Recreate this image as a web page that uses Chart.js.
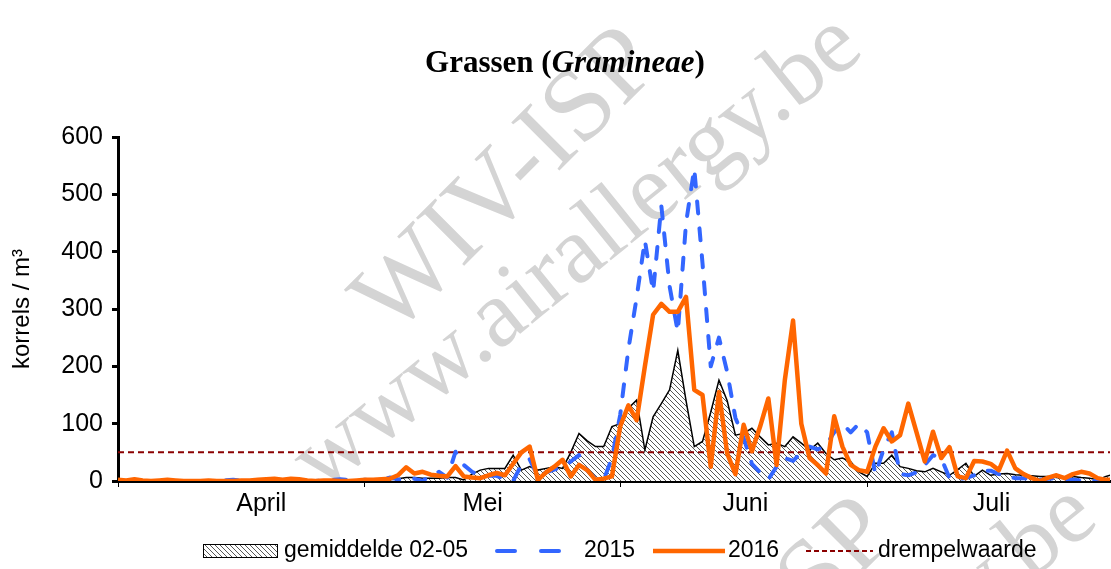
<!DOCTYPE html>
<html><head><meta charset="utf-8">
<script src="https://cdn.jsdelivr.net/npm/chart.js@4.4.0/dist/chart.umd.min.js"></script>
<style>html,body{margin:0;padding:0;background:#fff}#c{display:block}</style>
</head><body>
<canvas id="c" width="1111" height="569"></canvas>
<script>
// ---- data (day index 0 = 1 April) ----
const monthNames = ['April', 'Mei', 'Juni', 'Juli'];
const monthStarts = [0, 30, 61, 91];
const monthLabelAt = [17.4, 44.3, 76.2, 106.1];
const yTicks = [0, 100, 200, 300, 400, 500, 600];
const seriesLabels = ['gemiddelde 02-05', '2015', '2016', 'drempelwaarde'];
const threshold = 50;

const mean0205 = [0,0,0,1,0,0,0,0,0,0, 0,0,0,0,0,0,1,1,2,3, 2,3,2,1,1,1,0,1,1,1,
  1,1,2,2,4,6,6,5,5,5, 6,6,2,12,19,22,22,22,45,19, 25,19,22,25,22,50,83,70,60,60, 95,
  100,127,141,54,112,135,159,228,140,60, 69,120,176,140,80,83,92,77,63,66, 60,77,66,54,66,48,37,40,34,16,
  8,31,31,45,25,22,18,16,22,16, 10,20,31,8,19,10,12,13,11,10, 9,8,8,6,5,8,6,5,2,8, 12];

const y2015 = [0,0,0,0,0,0,0,0,0,0, 0,0,0,1,2,1,0,0,0,0, 0,0,0,0,0,1,2,3,2,1,
  2,1,2,6,3,2,4,0,10,16, 6,51,28,16,10,9,9,3,0,28, 38,8,15,20,25,34,45,18,4,2, 40,
  115,230,320,420,330,480,340,260,450,545, 380,200,250,190,110,75,30,15,3,25, 40,35,50,60,55,62,85,100,85,100,
  85,12,55,85,12,10,15,28,45,40, 5,3,5,10,18,18,12,8,5,5, 3,2,4,5,3,2,1,0,0,0, 0];

const y2016 = [2,1,3,1,0,1,2,1,0,0, 0,1,0,0,0,1,1,2,3,4, 2,4,3,1,0,1,1,0,0,1,
  2,2,3,4,10,24,13,16,11,9, 8,26,8,6,5,10,14,10,30,50, 60,2,15,25,37,8,28,19,2,4, 8,
  95,132,106,200,290,309,295,295,321,159, 150,25,155,48,12,98,52,95,144,28, 176,280,100,40,28,13,113,60,28,19,
  16,60,92,69,80,135,85,34,86,40, 59,8,5,35,34,30,19,53,22,12, 5,0,6,10,5,12,16,13,5,2, 2];

const toPts = arr => arr.map((v, i) => ({x: i, y: v}));

// hatch pattern
function makeHatch() {
  const s = 5, c = document.createElement('canvas');
  c.width = s; c.height = s;
  const g = c.getContext('2d');
  g.fillStyle = '#fff'; g.fillRect(0, 0, s, s);
  g.strokeStyle = '#444'; g.lineWidth = 0.9;
  g.beginPath();
  g.moveTo(-1, -1); g.lineTo(s + 1, s + 1);
  g.moveTo(-1, s - 1); g.lineTo(1, s + 1);
  g.moveTo(s - 1, -1); g.lineTo(s + 1, 1);
  g.stroke();
  return g.createPattern(c, 'repeat');
}
const hatch = makeHatch();

const XMAX = 120.5;
const SANS = '"Liberation Sans", Arial, sans-serif';

const watermark = {
  id: 'watermark',
  beforeDraw(chart) {
    const ctx = chart.ctx;
    ctx.save();
    ctx.fillStyle = '#d4d4d4';
    const items = [
      {t: 'WIV-ISP', x: 392, y: 338, a: -45, f: 104},
      {t: 'www.airallergy.be', x: 322, y: 494, a: -39, f: 96},
      {t: 'WIV-ISP', x: 627, y: 808, a: -45, f: 104},
      {t: 'www.airallergy.be', x: 557, y: 964, a: -39, f: 96}
    ];
    for (const it of items) {
      ctx.save();
      ctx.translate(it.x, it.y);
      ctx.rotate(it.a * Math.PI / 180);
      ctx.font = it.f + 'px "Liberation Serif", "DejaVu Serif", serif';
      ctx.textBaseline = 'alphabetic';
      ctx.textAlign = 'left';
      ctx.fillText(it.t, 0, 0);
      ctx.restore();
    }
    ctx.restore();
  }
};

const titlePlugin = {
  id: 'mixedTitle',
  afterDraw(chart) {
    const ctx = chart.ctx;
    ctx.save();
    const parts = [
      {t: 'Grassen (', f: 'bold 31px "Liberation Serif", serif'},
      {t: 'Gramineae', f: 'italic bold 31px "Liberation Serif", serif'},
      {t: ')', f: 'bold 31px "Liberation Serif", serif'}
    ];
    let w = 0;
    for (const p of parts) { ctx.font = p.f; p.w = ctx.measureText(p.t).width; w += p.w; }
    let x = 565 - w / 2;
    ctx.fillStyle = '#000';
    ctx.textBaseline = 'alphabetic';
    for (const p of parts) { ctx.font = p.f; ctx.fillText(p.t, x, 72); x += p.w; }
    ctx.restore();
  }
};

const legendPlugin = {
  id: 'customLegend',
  afterDraw(chart) {
    const ctx = chart.ctx;
    const yc = 551;
    const slots = [[203, 278, 284], [494, 561, 584], [653, 725, 728], [806, 873, 878]];
    const ds = chart.data.datasets;
    ctx.save();
    ctx.font = '23px ' + SANS;
    ctx.textBaseline = 'middle';
    ctx.fillStyle = '#000';
    slots.forEach((s, i) => {
      const d = ds[i];
      ctx.save();
      if (i === 0) {
        ctx.fillStyle = hatch;
        ctx.fillRect(s[0], yc - 7, s[1] - s[0], 14);
        ctx.strokeStyle = '#000'; ctx.lineWidth = 1;
        ctx.strokeRect(s[0] + 0.5, yc - 6.5, s[1] - s[0] - 1, 13);
      } else {
        ctx.strokeStyle = d.borderColor;
        ctx.lineWidth = d.borderWidth;
        ctx.lineCap = d.borderCapStyle || 'butt';
        if (i === 1) ctx.setLineDash([18, 26]);
        else if (i === 3) ctx.setLineDash([5, 3]);
        else ctx.setLineDash([]);
        ctx.beginPath();
        const off = i === 1 ? 3 : 0;
        ctx.moveTo(s[0] + off, yc); ctx.lineTo(s[1], yc);
        ctx.stroke();
      }
      ctx.restore();
      ctx.fillText(d.label, s[2], yc);
    });
    ctx.restore();
  }
};

new Chart(document.getElementById('c'), {
  type: 'line',
  data: {
    datasets: [
      {label: seriesLabels[0], data: toPts(mean0205), borderColor: '#000', borderWidth: 1.5,
       backgroundColor: hatch, fill: 'origin', pointRadius: 0, tension: 0, order: 4},
      {label: seriesLabels[1], data: toPts(y2015), borderColor: '#3366ff', borderWidth: 4,
       borderDash: [12, 15], borderCapStyle: 'round', borderJoinStyle: 'round',
       fill: false, pointRadius: 0, tension: 0, order: 2},
      {label: seriesLabels[2], data: toPts(y2016), borderColor: '#ff6600', borderWidth: 4.5,
       borderJoinStyle: 'round', fill: false, pointRadius: 0, tension: 0, order: 1},
      {label: seriesLabels[3], data: [{x: 0, y: threshold}, {x: mean0205.length - 1, y: threshold}],
       borderColor: '#8b0000', borderWidth: 2, borderDash: [6, 4], fill: false, pointRadius: 0, order: 3}
    ]
  },
  options: {
    responsive: false,
    animation: false,
    devicePixelRatio: 1,
    layout: {padding: {top: 137, right: 1, bottom: 0, left: 0}},
    plugins: {legend: {display: false}, title: {display: false}, tooltip: {enabled: false}},
    scales: {
      x: {
        type: 'linear', position: 'bottom', min: 0, max: XMAX, weight: 1,
        afterBuildTicks: ax => { ax.ticks = monthStarts.map(v => ({value: v})); },
        afterFit: ax => { ax.height = 6; },
        ticks: {display: false},
        grid: {drawOnChartArea: false, drawTicks: true, tickLength: 6, tickWidth: 1, tickColor: '#000', color: '#000'},
        border: {display: true, color: '#000', width: 3}
      },
      x2: {
        type: 'linear', position: 'bottom', min: 0, max: XMAX, weight: 2,
        afterBuildTicks: ax => { ax.ticks = monthLabelAt.map(v => ({value: v})); },
        afterFit: ax => { ax.height = 82; },
        ticks: {
          callback: (v, i) => monthNames[i],
          color: '#000', padding: 2, maxRotation: 0, autoSkip: false,
          font: {family: SANS, size: 25}
        },
        grid: {display: false, drawTicks: false},
        border: {display: false}
      },
      y: {
        type: 'linear', min: 0, max: 600,
        afterBuildTicks: ax => { ax.ticks = yTicks.map(v => ({value: v})); },
        afterFit: ax => { ax.width = 118; },
        ticks: {color: '#000', padding: 9, font: {family: SANS, size: 25}},
        grid: {drawOnChartArea: false, drawTicks: true, tickLength: 6, tickWidth: 3, tickColor: '#000'},
        border: {display: true, color: '#000', width: 3},
        title: {display: true, text: 'korrels / m³', color: '#000', padding: {top: 8, bottom: 0},
          font: {family: SANS, size: 24}}
      }
    }
  },
  plugins: [watermark, titlePlugin, legendPlugin]
});
</script>
</body></html>
